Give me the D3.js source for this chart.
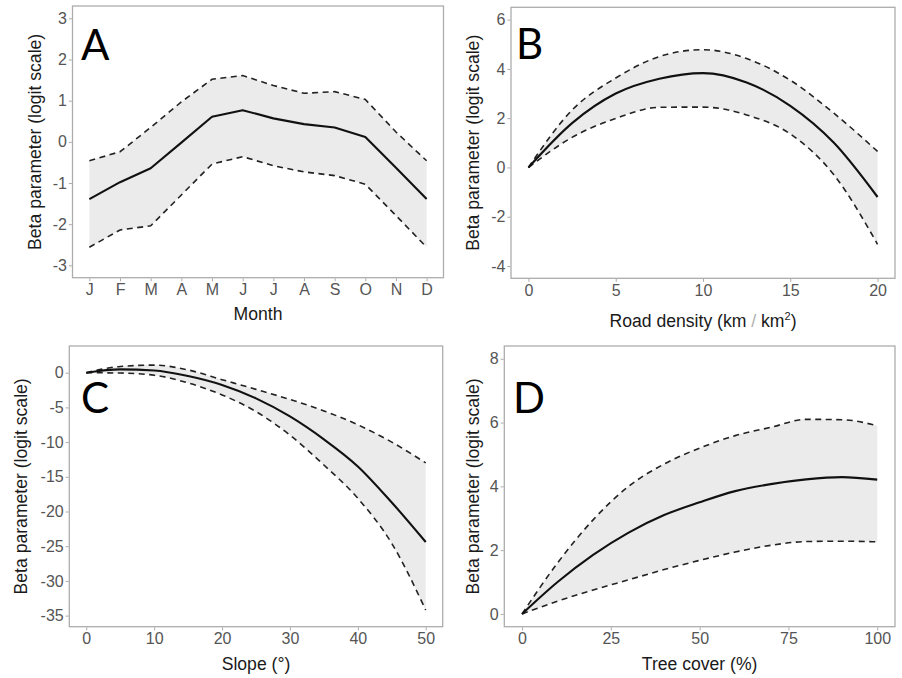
<!DOCTYPE html>
<html>
<head>
<meta charset="utf-8">
<script src="https://cdn.jsdelivr.net/npm/d3@7"></script>
<style>
  html, body { margin: 0; padding: 0; background: #fff; }
  svg { display: block; }
  .tick text { font-family: "Liberation Sans", Arial, sans-serif; font-size: 16px; fill: #555; }
  .tick line { stroke: #aaa; stroke-width: 1; }
  .title { font-family: "Liberation Sans", Arial, sans-serif; font-size: 17.6px; fill: #1a1a1a; }
  .letter { font-family: Lato, "Open Sans", sans-serif; font-size: 42px; fill: #000; }
</style>
</head>
<body>
<svg id="chart" width="902" height="678"></svg>
<script>
// ---------- Data ----------
const months = ["J","F","M","A","M","J","J","A","S","O","N","D"];
const monthMean  = [-1.39, -0.98, -0.64, -0.02, 0.61, 0.77, 0.57, 0.43, 0.35, 0.12, -0.63, -1.39];
const monthUpper = [-0.46, -0.24, 0.35, 0.97, 1.52, 1.61, 1.37, 1.18, 1.22, 1.03, 0.24, -0.46];
const monthLower = [-2.56, -2.14, -2.04, -1.29, -0.54, -0.36, -0.58, -0.73, -0.82, -1.03, -1.79, -2.56];

const roadX     = [0, 2.5, 5, 7.5, 10, 12.5, 15, 17.5, 20];
const roadMean  = [0, 1.80, 3.00, 3.60, 3.83, 3.45, 2.50, 1.00, -1.20];
const roadUpper = [0, 2.33, 3.63, 4.50, 4.78, 4.42, 3.54, 2.20, 0.65];
const roadLower = [0, 1.22, 1.99, 2.44, 2.45, 2.13, 1.36, -0.30, -3.12];

const slopeX     = [0, 5, 10, 15, 20, 25, 30, 35, 40, 45, 50];
const slopeMean  = [0, 0.48, 0.33, -0.48, -1.77, -3.70, -6.30, -9.60, -13.5, -18.7, -24.4];
const slopeUpper = [0, 0.90, 1.10, 0.40, -1.00, -2.40, -3.85, -5.50, -7.50, -10.0, -13.0];
const slopeLower = [0, -0.05, -0.36, -1.47, -3.20, -5.60, -9.00, -13.3, -18.1, -24.6, -34.2];

const treeX     = [0, 10, 20, 30, 40, 50, 60, 70, 80, 90, 100];
const treeMean  = [0, 1.00, 1.85, 2.55, 3.10, 3.50, 3.85, 4.07, 4.22, 4.29, 4.21];
const treeUpper = [0, 1.60, 2.95, 4.00, 4.70, 5.20, 5.59, 5.85, 6.10, 6.09, 5.90];
const treeLower = [0, 0.40, 0.75, 1.07, 1.39, 1.68, 1.94, 2.15, 2.27, 2.28, 2.26];

const monthTicks = [1,2,3,4,5,6,7,8,9,10,11,12];
const roadTicks  = [0, 5, 10, 15, 20];
const slopeTicks = [0, 10, 20, 30, 40, 50];
const treeTicks  = [0, 25, 50, 75, 100];
const yTicksA = [-3, -2, -1, 0, 1, 2, 3];
const yTicksB = [-4, -2, 0, 2, 4, 6];
const yTicksC = [-35, -30, -25, -20, -15, -10, -5, 0];
const yTicksD = [0, 2, 4, 6, 8];

const yTitle = "Beta parameter (logit scale)";

// ---------- Drawing ----------
const svg = d3.select("#chart");

function drawPanel(p) {
  const x = d3.scaleLinear().domain(p.xDomain).range([p.left, p.right]);
  const y = d3.scaleLinear().domain(p.yDomain).range([p.bottom, p.top]);
  const g = svg.append("g");

  const rows = p.xs.map((xv, i) => ({ x: xv, m: p.mean[i], u: p.upper[i], l: p.lower[i] }));

  g.append("path")
    .datum(rows)
    .attr("fill", "#ebebeb")
    .attr("d", d3.area().x(d => x(d.x)).y0(d => y(d.l)).y1(d => y(d.u)).curve(p.curve));

  const line = key => d3.line().x(d => x(d.x)).y(d => y(d[key])).curve(p.curve);
  ["u", "l"].forEach(k => {
    g.append("path").datum(rows)
      .attr("fill", "none").attr("stroke", "#222").attr("stroke-width", 1.6)
      .attr("stroke-dasharray", "6,4.5").attr("d", line(k));
  });
  g.append("path").datum(rows)
    .attr("fill", "none").attr("stroke", "#111").attr("stroke-width", 2.1)
    .attr("stroke-linejoin", "round").attr("d", line("m"));

  // border
  g.append("rect")
    .attr("x", p.left).attr("y", p.top)
    .attr("width", p.right - p.left).attr("height", p.bottom - p.top)
    .attr("fill", "none").attr("stroke", "#adadad").attr("stroke-width", 1.3);

  // axes
  const xa = g.append("g").attr("transform", `translate(0,${p.bottom + 0.6})`)
    .call(d3.axisBottom(x).tickValues(p.xTicks).tickSize(3).tickPadding(2.5)
      .tickFormat(p.xFormat || (d => String(d))));
  xa.select(".domain").remove();
  const ya = g.append("g").attr("transform", `translate(${p.left - 0.6},0)`)
    .call(d3.axisLeft(y).tickValues(p.yTicks).tickSize(3).tickPadding(2)
      .tickFormat(d => String(d)));
  ya.select(".domain").remove();

  // y title
  const cy = (p.top + p.bottom) / 2;
  g.append("text").attr("class", "title")
    .attr("transform", `translate(${p.yTitleX},${cy}) rotate(-90)`)
    .attr("text-anchor", "middle").attr("dy", "0.35em")
    .text(yTitle);

  // x title
  const xt = g.append("text").attr("class", "title")
    .attr("x", (p.left + p.right) / 2).attr("y", p.xTitleY)
    .attr("text-anchor", "middle");
  p.xTitle(xt);

  // panel letter
  g.append("text").attr("class", "letter")
    .attr("x", p.letterX).attr("y", p.letterY).text(p.letter);
}

drawPanel({
  left: 72.5, right: 443.5, top: 6, bottom: 277.7,
  xDomain: [0.45, 12.55], yDomain: [-3.3, 3.3],
  xs: monthTicks, mean: monthMean, upper: monthUpper, lower: monthLower,
  curve: d3.curveLinear,
  xTicks: monthTicks, xFormat: d => months[d - 1], yTicks: yTicksA,
  yTitleX: 35, xTitleY: 320,
  xTitle: t => t.text("Month"),
  letter: "A", letterX: 81, letterY: 60
});

drawPanel({
  left: 511, right: 895, top: 7.3, bottom: 278.3,
  xDomain: [-1, 21], yDomain: [-4.5, 6.5],
  xs: roadX, mean: roadMean, upper: roadUpper, lower: roadLower,
  curve: d3.curveMonotoneX,
  xTicks: roadTicks, yTicks: yTicksB,
  yTitleX: 473, xTitleY: 327,
  xTitle: t => {
    t.append("tspan").text("Road density (km ");
    t.append("tspan").attr("fill", "#b0b0b0").style("font-weight", "300").text("/");
    t.append("tspan").text(" km");
    t.append("tspan").attr("dy", "-7").style("font-size", "11px").text("2");
    t.append("tspan").attr("dy", "7").text(")");
  },
  letter: "B", letterX: 516, letterY: 59
});

drawPanel({
  left: 69.3, right: 442.7, top: 346, bottom: 626.7,
  xDomain: [-2.5, 52.5], yDomain: [-36.6, 3.85],
  xs: slopeX, mean: slopeMean, upper: slopeUpper, lower: slopeLower,
  curve: d3.curveMonotoneX,
  xTicks: slopeTicks, yTicks: yTicksC,
  yTitleX: 21, xTitleY: 670,
  xTitle: t => t.text("Slope (°)"),
  letter: "C", letterX: 81, letterY: 413
});

drawPanel({
  left: 504.3, right: 895, top: 346, bottom: 626.7,
  xDomain: [-5, 105], yDomain: [-0.4, 8.4],
  xs: treeX, mean: treeMean, upper: treeUpper, lower: treeLower,
  curve: d3.curveMonotoneX,
  xTicks: treeTicks, yTicks: yTicksD,
  yTitleX: 473, xTitleY: 670,
  xTitle: t => t.text("Tree cover (%)"),
  letter: "D", letterX: 513, letterY: 413
});
</script>
</body>
</html>
